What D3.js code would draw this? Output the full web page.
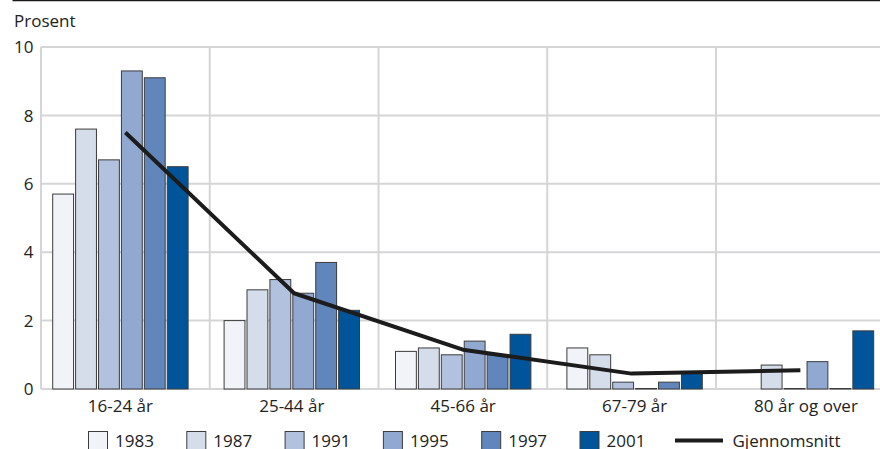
<!DOCTYPE html>
<html>
<head>
<meta charset="utf-8">
<script src="https://cdn.jsdelivr.net/npm/d3@7"></script>
<style>
  html, body { margin: 0; padding: 0; background: #fff; }
  svg { display: block; }
  text { font-family: "Open Sans", "Noto Sans", sans-serif; fill: #222; }
</style>
</head>
<body>
<svg id="chart" width="880" height="449"></svg>
<script>
// ---- data ----
const categories = ["16-24 år", "25-44 år", "45-66 år", "67-79 år", "80 år og over"];
const years = ["1983", "1987", "1991", "1995", "1997", "2001"];
const v1983 = [5.7, 2.0, 1.1, 1.2, null];
const v1987 = [7.6, 2.9, 1.2, 1.0, 0.7];
const v1991 = [6.7, 3.2, 1.0, 0.2, 0];
const v1995 = [9.3, 2.8, 1.4, 0, 0.8];
const v1997 = [9.1, 3.7, 1.0, 0.2, 0];
const v2001 = [6.5, 2.3, 1.6, 0.5, 1.7];
const average = [7.5, 2.8, 1.15, 0.45, 0.55];
const yTicks = [0, 2, 4, 6, 8, 10];
const yLabel = "Prosent";
const avgLabel = "Gjennomsnitt";
const colors = ["#f1f3f9", "#d5dcea", "#b2c1dd", "#91a8d0", "#6186bb", "#00559a"];

const series = [v1983, v1987, v1991, v1995, v1997, v2001];

// ---- layout ----
const svg = d3.select("#chart");
const plotLeft = 41, plotRight = 884.75, plotTop = 47, plotBottom = 389;

const y = d3.scaleLinear().domain([0, 10]).range([plotBottom, plotTop]);
const x = d3.scaleBand().domain(categories).range([34.7, 891.7]).paddingInner(0).paddingOuter(0);
const xs = d3.scaleBand().domain(years).range([-67.7, 67.7]).paddingInner(0.09);
const gridX = d3.scaleLinear().domain([0, categories.length]).range([plotLeft, plotRight]);
const color = d3.scaleOrdinal().domain(years).range(colors);

// top rule
svg.append("line").attr("x1", 12.5).attr("x2", 880).attr("y1", 0.5).attr("y2", 0.5)
  .attr("stroke", "#1a1a1a").attr("stroke-width", 1.5);

// y label
svg.append("text").attr("x", 14).attr("y", 26.5).attr("font-size", 17).text(yLabel);

// grid
const grid = svg.append("g");
grid.selectAll("line.h").data(yTicks).join("line").attr("class", "h")
  .attr("x1", plotLeft).attr("x2", 880)
  .attr("y1", d => y(d)).attr("y2", d => y(d))
  .attr("stroke", "#d5d5d7").attr("stroke-width", 2);
grid.selectAll("line.v").data(d3.range(categories.length)).join("line").attr("class", "v")
  .attr("x1", d => gridX(d)).attr("x2", d => gridX(d))
  .attr("y1", y(10)).attr("y2", y(0))
  .attr("stroke", "#d5d5d7").attr("stroke-width", 2);

// y tick labels
svg.append("g").selectAll("text").data(yTicks).join("text")
  .attr("x", 33.5).attr("y", d => y(d)).attr("dy", "0.36em")
  .attr("text-anchor", "end").attr("font-size", 17).text(d => d);

// bars
const barData = [];
categories.forEach((c, i) => {
  years.forEach((yr, j) => {
    const v = series[j][i];
    if (v !== null && v !== undefined) barData.push({ c, yr, v });
  });
});
svg.append("g").selectAll("rect").data(barData).join("rect")
  .attr("x", d => x(d.c) + x.bandwidth() / 2 + xs(d.yr))
  .attr("width", xs.bandwidth())
  .attr("y", d => Math.min(y(d.v), y(0) - 0.5))
  .attr("height", d => Math.max(y(0) - y(d.v), 0.5))
  .attr("fill", d => color(d.yr))
  .attr("stroke", "#3c3c3c").attr("stroke-width", 1);

// average line (positioned at the centres of the grid cells)
const line = d3.line()
  .x((d, i) => gridX(i + 0.5))
  .y(d => y(d));
svg.append("path").datum(average).attr("d", line)
  .attr("fill", "none").attr("stroke", "#1c1c1c").attr("stroke-width", 4)
  .attr("stroke-linejoin", "round");

// x labels
svg.append("g").selectAll("text").data(categories).join("text")
  .attr("x", d => x(d) + x.bandwidth() / 2).attr("y", 412)
  .attr("text-anchor", "middle").attr("font-size", 17).text(d => d);

// legend
const lg = svg.append("g");
const legX = d3.scaleLinear().domain([0, 1]).range([88, 186.3]);
years.forEach((yr, j) => {
  const g = lg.append("g").attr("transform", `translate(${legX(j)},0)`);
  g.append("rect").attr("x", 0.5).attr("y", 431.5).attr("width", 19).attr("height", 20)
    .attr("fill", color(yr)).attr("stroke", "#3c3c3c").attr("stroke-width", 1);
  g.append("text").attr("x", 27).attr("y", 446.5).attr("font-size", 17).text(yr);
});
const lgl = lg.append("g");
lgl.append("line").attr("x1", 675).attr("x2", 723)
  .attr("y1", 440.5).attr("y2", 440.5).attr("stroke", "#1c1c1c").attr("stroke-width", 4);
lgl.append("text").attr("x", 732.5).attr("y", 446.5).attr("font-size", 17).text(avgLabel);
</script>
</body>
</html>
